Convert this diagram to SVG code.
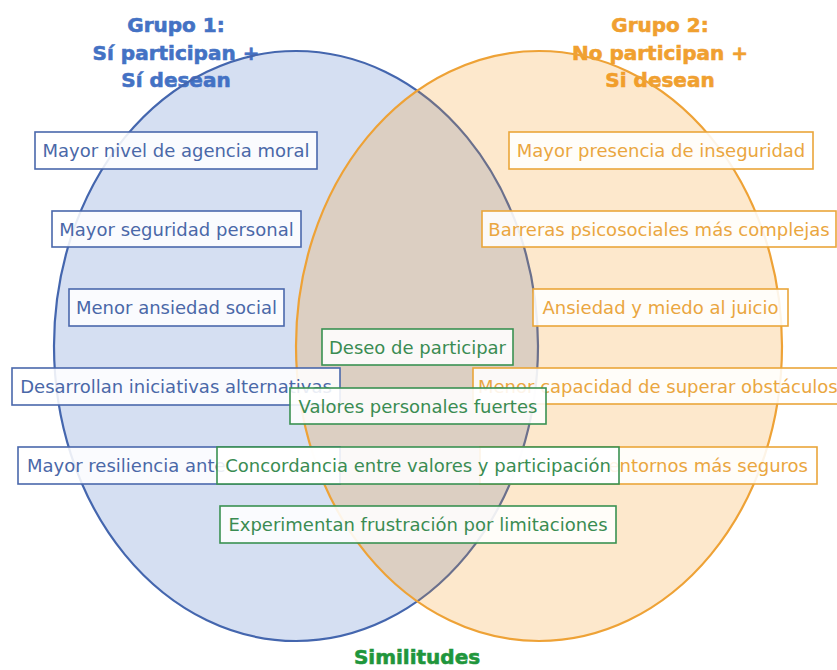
<svg xmlns="http://www.w3.org/2000/svg" width="837" height="670" viewBox="0 0 837 670">
<style>
.title{font-family:"DejaVu Sans",Verdana,sans-serif;font-weight:bold;font-size:20px;text-anchor:middle;stroke-width:0.6}
.t{font-family:"DejaVu Sans",Verdana,sans-serif;font-size:18px;text-anchor:middle}
.box{fill:#ffffff;fill-opacity:0.88;stroke-width:1.6}
.b rect{stroke:#4a68ac}.b text{fill:#4a68a8}
.o rect{stroke:#eaa63a}.o text{fill:#eaa640}
.g rect{stroke:#3a9152}.g text{fill:#3a8c52}
</style>
<rect width="837" height="670" fill="#ffffff"/>
<g id="titles">
<text class="title" fill="#4472c4" stroke="#4472c4" x="176" y="32">Grupo 1:</text>
<text class="title" fill="#4472c4" stroke="#4472c4" x="176" y="60">Sí participan +</text>
<text class="title" fill="#4472c4" stroke="#4472c4" x="176" y="87">Sí desean</text>
<text class="title" fill="#f0a030" stroke="#f0a030" x="660" y="32">Grupo 2:</text>
<text class="title" fill="#f0a030" stroke="#f0a030" x="660" y="60">No participan +</text>
<text class="title" fill="#f0a030" stroke="#f0a030" x="660" y="87">Si desean</text>
<text class="title" fill="#1f963c" stroke="#1f963c" x="417" y="664">Similitudes</text>
</g>
<g id="sets">
<ellipse id="set1" cx="296" cy="346" rx="242" ry="295" fill="#4472c4" fill-opacity="0.225" stroke="#4466ae" stroke-width="2.2"/>
<ellipse id="set2" cx="539" cy="346" rx="243" ry="295" fill="#f69617" fill-opacity="0.22" stroke="#eea236" stroke-width="2.2"/>
</g>
<g id="connectors"></g>
<g id="b1" class="b"><rect class="box" x="35" y="132" width="282" height="37"/><text class="t" x="176" y="157">Mayor nivel de agencia moral</text></g>
<g id="b2" class="b"><rect class="box" x="52" y="211" width="249" height="36"/><text class="t" x="176.5" y="235.5">Mayor seguridad personal</text></g>
<g id="b3" class="b"><rect class="box" x="69" y="289" width="215" height="37"/><text class="t" x="176.5" y="314">Menor ansiedad social</text></g>
<g id="b4" class="b"><rect class="box" x="12" y="368" width="328" height="37"/><text class="t" x="176" y="393">Desarrollan iniciativas alternativas</text></g>
<g id="b5" class="b"><rect class="box" x="18" y="447" width="322" height="37"/><text class="t" x="27" y="472" style="text-anchor:start">Mayor resiliencia ante</text></g>
<g id="o1" class="o"><rect class="box" x="509" y="132" width="304" height="37"/><text class="t" x="661" y="157">Mayor presencia de inseguridad</text></g>
<g id="o2" class="o"><rect class="box" x="482" y="211" width="354" height="36"/><text class="t" x="659" y="235.5">Barreras psicosociales más complejas</text></g>
<g id="o3" class="o"><rect class="box" x="533" y="289" width="255" height="37"/><text class="t" x="660.5" y="314">Ansiedad y miedo al juicio</text></g>
<g id="o4" class="o"><rect class="box" x="473" y="368" width="375" height="36"/><text class="t" x="478" y="392.5" style="text-anchor:start">Menor capacidad de superar obstáculos</text></g>
<g id="o5" class="o"><rect class="box" x="480" y="447" width="337" height="37"/><text class="t" x="808" y="472" style="text-anchor:end">entornos más seguros</text></g>
<g id="g1" class="g"><rect class="box" x="322" y="329" width="191" height="36"/><text class="t" x="417.5" y="353.5">Deseo de participar</text></g>
<g id="g2" class="g"><rect class="box" x="290" y="388" width="256" height="36"/><text class="t" x="418" y="412.5">Valores personales fuertes</text></g>
<g id="g3" class="g"><rect class="box" x="217" y="447" width="402" height="37"/><text class="t" x="418" y="472">Concordancia entre valores y participación</text></g>
<g id="g4" class="g"><rect class="box" x="220" y="506" width="396" height="37"/><text class="t" x="418" y="531">Experimentan frustración por limitaciones</text></g>
</svg>
